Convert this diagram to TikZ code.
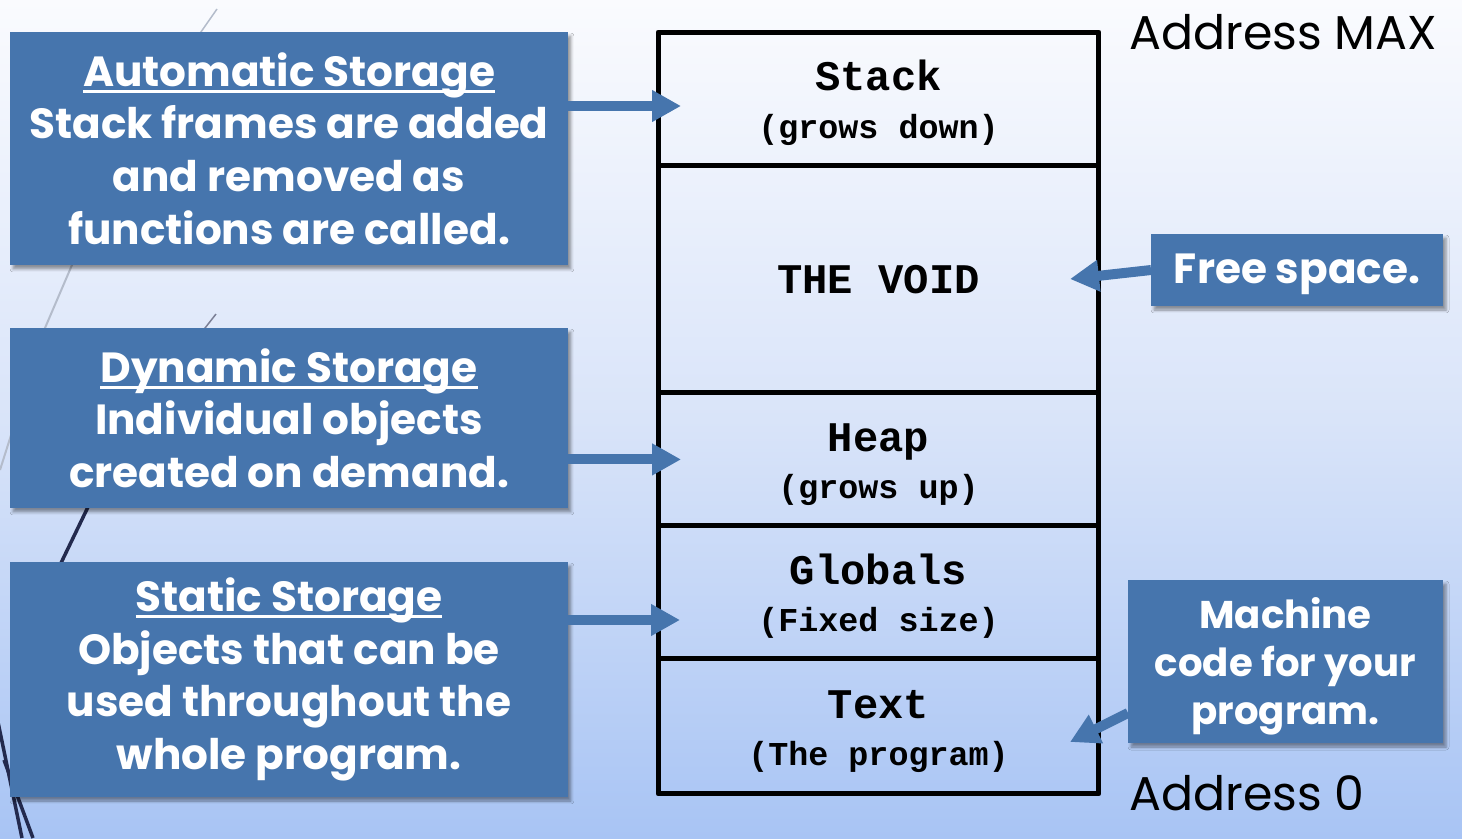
\documentclass[tikz,border=0pt]{standalone}
\usepackage{fontspec}
\setmainfont{Poppins}
\newfontfamily\memfont{Liberation Mono}
\usetikzlibrary{arrows.meta,positioning,shadows.blur}

\definecolor{bgtop}{HTML}{FAFBFE}
\definecolor{bgmid}{HTML}{D9E4F9}
\definecolor{bgbot}{HTML}{A8C4F4}
\definecolor{boxblue}{HTML}{4675AD}
\definecolor{decogray}{HTML}{B4BCCB}
\definecolor{deconavy}{HTML}{232A4E}

\tikzset{
  infobox/.style={fill=boxblue, text=white, font=\bfseries\fontsize{24}{30}\selectfont,
    align=center, inner sep=0pt, outer sep=0pt, minimum width=11.16cm,
    blur shadow={shadow xshift=0.06cm, shadow yshift=-0.08cm, shadow blur radius=0.06cm, shadow opacity=40}},
  memcell/.style={draw=black, line width=0.1cm, line join=round, minimum width=8.82cm,
    inner sep=0pt, outer sep=0pt, align=center, font=\memfont\bfseries\fontsize{24}{27}\selectfont},
  memarrow/.style={draw=boxblue, line width=0.2cm, -{Triangle[length=0.58cm,width=0.6cm]}},
  addrlabel/.style={anchor=west, inner sep=0pt, font=\fontsize{27}{32}\selectfont},
  decoline/.style={line width=0.03cm, decogray},
}
\newcommand{\heading}[1]{\setbox0\hbox{#1}\rlap{\rule[-0.16em]{\wd0}{0.07em}}\box0}
\newcommand{\segment}[2]{\rule{0pt}{21.5pt}#1\\{\fontsize{19}{27}\selectfont #2}}

\begin{document}
\begin{tikzpicture}[x=0.02cm,y=-0.02cm]
\useasboundingbox (0,0) rectangle (1462,838);
\shade[top color=bgtop, bottom color=bgbot, middle color=bgmid] (0,0) rectangle (1462,838);
% background strokes
\draw[decoline] (217,9) -- (150,105);
\draw[decoline, line width=0.04cm] (110,170) -- (72,265) -- (45,328) -- (0,470);
\draw[decoline, deconavy!60] (216,314) -- (180,360);
\draw[deconavy, line width=0.07cm] (120,440) -- (88,507) -- (61,563);
\draw[deconavy, line width=0.07cm] (-2,722) -- (22,838);
\draw[deconavy, line width=0.07cm] (4,760) -- (33,838);
% storage boxes
\node[infobox, minimum height=4.66cm] (auto) at (289,148.5)
  {\heading{Automatic Storage}\\Stack frames are added\\and removed as\\functions are called.};
\node[infobox, minimum height=3.6cm] (dyn) at (289,418)
  {\heading{Dynamic Storage}\\Individual objects\\created on demand.};
\node[infobox, minimum height=4.7cm] (stat) at (289,679.5)
  {\heading{Static Storage}\\Objects that can be\\used throughout the\\whole program.};
\node[infobox, minimum width=5.84cm, minimum height=1.44cm] (free) at (1297,270)
  {\rule{0pt}{22pt}Free space.};
\node[infobox, minimum width=6.3cm, minimum height=3.26cm, font=\bfseries\fontsize{22}{27.3}\selectfont]
  (code) at (1285.5,661.5) {\rule{0pt}{23pt}Machine\\code for your\\program.};
% memory layout
\node[memcell, minimum height=2.68cm] (stack) at (878.5,99) {\segment{Stack}{(grows down)}};
\node[memcell, minimum height=4.54cm, below=0pt of stack] (void) {THE VOID};
\node[memcell, minimum height=2.66cm, below=0pt of void] (heap) {\segment{Heap}{(grows up)}};
\node[memcell, minimum height=2.66cm, below=0pt of heap] (globals) {\segment{Globals}{(Fixed size)}};
\node[memcell, minimum height=2.7cm, below=0pt of globals] (text) {\segment{Text}{(The program)}};
\node[addrlabel] (amax) at (1129,32) {Address MAX};
\node[addrlabel] (azero) at (1129,793) {Address 0};
% arrows
\coordinate (stackin) at (681,106);
\coordinate (globin) at (680,620);
\coordinate (voidin) at (1070,279);
\coordinate (textin) at (1070,742);
\draw[memarrow] (auto.east |- stackin) -- (stackin);
\draw[memarrow] (dyn.east |- heap) -- ([xshift=0.46cm]heap.west);
\draw[memarrow] (stat.east |- globin) -- (globin);
\draw[memarrow] (free.west) -- (voidin);
\draw[memarrow] ([yshift=-1.03cm]code.west) -- (textin);
\end{tikzpicture}
\end{document}
